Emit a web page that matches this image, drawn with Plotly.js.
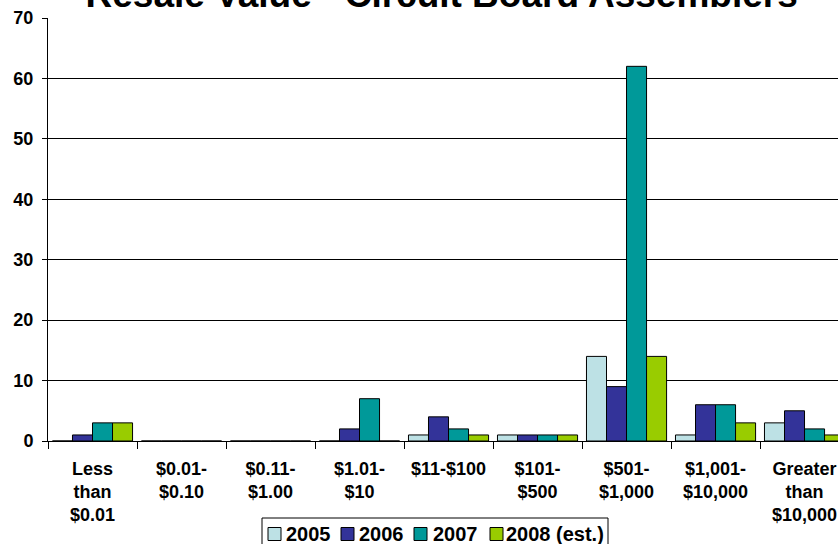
<!DOCTYPE html>
<html>
<head>
<meta charset="utf-8">
<script src="https://cdn.plot.ly/plotly-3.0.1.min.js"></script>
<style>html,body{margin:0;padding:0;background:#fff;overflow:hidden}#chart{width:838px;height:544px}</style>
</head>
<body>
<div id="chart"></div>
<script>
const categories = ["Less than $0.01", "$0.01-$0.10", "$0.11-$1.00", "$1.01-$10", "$11-$100", "$101-$500", "$501-$1,000", "$1,001-$10,000", "Greater than $10,000"];
const tickLabels = ["Less<br>than<br>$0.01", "$0.01-<br>$0.10", "$0.11-<br>$1.00", "$1.01-<br>$10", "$11-$100", "$101-<br>$500", "$501-<br>$1,000", "$1,001-<br>$10,000", "Greater<br>than<br>$10,000"];
const seriesNames = ["2005", "2006", "2007", "2008 (est.)"];
const v2005 = [0, 0, 0, 0, 1, 1, 14, 1, 3];
const v2006 = [1, 0, 0, 2, 4, 1, 9, 6, 5];
const v2007 = [3, 0, 0, 7, 2, 1, 62, 6, 2];
const v2008 = [3, 0, 0, 0, 1, 1, 14, 3, 1];
const colors = ["#BDE1E5", "#333399", "#009999", "#99CC00"];

const values = [v2005, v2006, v2007, v2008];
const traces = values.map((v, i) => ({
  type: "bar",
  name: seriesNames[i],
  x: categories,
  y: v,
  showlegend: false,
  marker: {color: colors[i], line: {color: "#000", width: 1}},
  hoverinfo: "x+y+name"
}));

// plot-area geometry (pixels) used to place the hand-built legend
const PL = 48, PR = 838, PT = 18, PB = 441;
const px = x => (x - PL) / (PR - PL);
const py = y => (PB - y) / (PB - PT);
// legend layout (pixels): swatch left edges, text left edges
const legendSwatchX = [268, 341, 414, 490];
const legendTextX = [285, 358, 432, 505];
const legendBox = {x0: 262, x1: 608, y0: 518, y1: 570};
const legendMidY = 534, swatch = 13;

const fontFam = "Arial, 'Liberation Sans', sans-serif";
const shapes = [{
  type: "rect", xref: "paper", yref: "paper", layer: "above",
  x0: px(legendBox.x0), x1: px(legendBox.x1), y0: py(legendBox.y0), y1: py(legendBox.y1),
  line: {color: "#000", width: 1}, fillcolor: "#fff"
}];
const annotations = [];
seriesNames.forEach((name, i) => {
  shapes.push({
    type: "rect", xref: "paper", yref: "paper", layer: "above",
    x0: px(legendSwatchX[i]), x1: px(legendSwatchX[i] + swatch),
    y0: py(legendMidY - swatch / 2), y1: py(legendMidY + swatch / 2),
    line: {color: "#000", width: 1}, fillcolor: colors[i]
  });
  annotations.push({
    xref: "paper", yref: "paper", x: px(legendTextX[i]), y: py(legendMidY),
    xanchor: "left", yanchor: "middle", showarrow: false, text: name,
    font: {family: fontFam, size: 20, weight: "bold", color: "#000"},
    borderpad: 0
  });
});

const layout = {
  width: 838, height: 544,
  margin: {l: PL, r: 838 - PR, t: PT, b: 544 - PB, pad: 0, autoexpand: false},
  paper_bgcolor: "#fff", plot_bgcolor: "#fff",
  barmode: "group", bargap: 0.1, bargroupgap: 0,
  font: {family: fontFam, color: "#000"},
  title: {
    text: "Resale Value - Circuit Board Assemblers",
    font: {family: fontFam, size: 37, weight: "bold", color: "#000"},
    xref: "container", x: 0.527, xanchor: "center",
    yref: "paper", y: 1, yanchor: "bottom",
    pad: {b: 11}
  },
  xaxis: {
    type: "category",
    range: [-0.5, 8.376],
    tickmode: "array", tickvals: categories, ticktext: tickLabels,
    tickson: "boundaries",
    ticks: "outside", ticklen: 7, tickcolor: "#000", tickwidth: 1,
    showline: true, linecolor: "#000", linewidth: 1,
    showgrid: false, zeroline: false,
    tickfont: {family: fontFam, size: 18, weight: "bold", color: "#000"},
    ticklabelstandoff: 11,
    automargin: false
  },
  yaxis: {
    range: [0, 70], dtick: 10, tick0: 0,
    ticks: "outside", ticklen: 5, tickcolor: "#000", tickwidth: 1,
    showline: true, linecolor: "#000", linewidth: 1,
    showgrid: true, gridcolor: "#000", gridwidth: 1,
    zeroline: false,
    tickfont: {family: fontFam, size: 18, weight: "bold", color: "#000"},
    ticklabelstandoff: 5,
    automargin: false
  },
  showlegend: false,
  shapes: shapes,
  annotations: annotations
};

Plotly.newPlot("chart", traces, layout, {displayModeBar: false, staticPlot: true});
</script>
</body>
</html>
